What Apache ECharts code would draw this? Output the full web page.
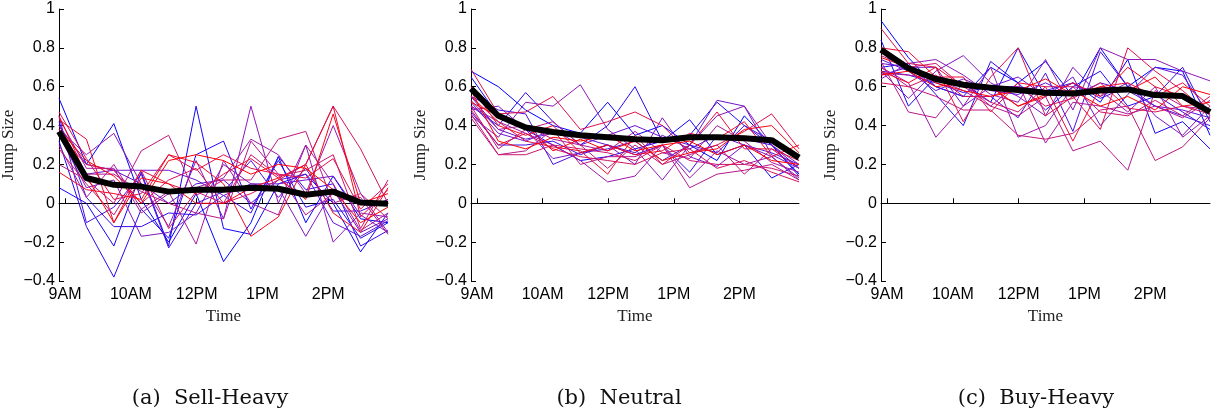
<!DOCTYPE html>
<html>
<head>
<meta charset="utf-8">
<script src="https://cdn.jsdelivr.net/npm/echarts@6/dist/echarts.min.js"></script>
<style>html,body{margin:0;padding:0;background:#fff;}#c{width:1217px;height:413px;}</style>
</head>
<body>
<div id="c"></div>
<script>
// ---- data ----
const xIndex = [0,1,2,3,4,5,6,7,8,9,10,11,12];
const tickPositions = [0.22, 2.62, 5.02, 7.42, 9.82];
const tickLabels = ["9AM","10AM","12PM","1PM","2PM"];
const yTicks = [-0.4,-0.2,0,0.2,0.4,0.6,0.8,1];
const panelCaptions = ["(a)  Sell-Heavy","(b)  Neutral","(c)  Buy-Heavy"];

const sellMean = [0.37,0.13,0.095,0.086,0.06,0.07,0.07,0.08,0.075,0.044,0.06,0.004,-0.003];
const sellLines = [
  [0.54,0.2,0.41,0.02,-0.2,0.05,-0.3,-0.1,0.24,-0.1,0.14,-0.08,-0.1],
  [0.08,0.0,-0.22,0.16,-0.22,0.5,-0.13,-0.16,0.1,0.15,0.0,-0.25,-0.05],
  [0.32,-0.12,-0.38,-0.03,-0.18,0.25,0.32,-0.03,0.22,-0.02,0.02,-0.18,-0.1],
  [0.42,0.03,-0.12,-0.12,-0.05,-0.06,0.04,-0.05,0.24,0.07,0.1,-0.22,-0.14],
  [0.45,-0.1,-0.02,0.15,-0.23,0.0,0.06,0.22,0.03,0.18,-0.04,-0.04,0.02],
  [0.36,0.15,0.17,0.1,0.0,0.1,0.12,0.0,0.12,0.15,-0.1,-0.17,-0.09],
  [0.4,0.2,0.17,0.17,0.17,0.12,0.04,0.1,0.1,0.12,0.14,-0.06,-0.15],
  [0.35,0.08,0.12,-0.17,-0.15,-0.05,0.2,0.1,0.08,-0.17,0.07,-0.15,-0.08],
  [0.38,0.25,0.36,0.1,-0.12,0.22,-0.08,0.5,0.0,0.3,-0.2,-0.05,-0.07],
  [0.44,0.18,0.18,-0.05,0.05,0.08,0.13,0.33,0.25,0.05,0.4,0.05,-0.15],
  [0.3,0.03,0.2,-0.03,0.06,-0.21,0.22,0.0,-0.06,0.3,0.1,-0.14,-0.05],
  [0.4,0.15,0.15,0.06,0.0,-0.05,-0.08,0.32,0.15,-0.06,0.05,0.03,-0.16],
  [0.2,0.12,0.0,0.27,0.35,0.04,0.12,0.12,0.33,0.37,0.0,0.05,-0.08],
  [0.28,0.1,-0.06,0.17,-0.13,0.06,0.0,0.25,0.14,0.17,0.25,-0.13,0.12],
  [0.35,0.2,0.17,0.0,0.12,0.18,0.0,0.05,0.12,0.2,0.5,0.28,0.0],
  [0.47,0.23,0.02,0.05,0.25,0.17,0.25,0.18,0.15,0.13,0.23,-0.03,0.1],
  [0.43,0.33,-0.1,0.17,0.1,0.05,0.15,0.23,0.13,0.2,0.5,-0.07,0.07],
  [0.16,0.07,0.05,0.02,0.25,0.21,0.1,-0.17,-0.07,0.2,-0.05,-0.15,0.08],
  [0.45,0.14,-0.1,0.13,0.1,0.0,0.0,0.08,0.13,0.02,0.46,0.0,0.05],
  [0.38,0.22,0.14,0.0,0.22,0.25,0.22,0.15,0.2,0.18,0.07,-0.1,-0.02]
];

const neutralMean = [0.59,0.45,0.39,0.367,0.35,0.34,0.33,0.325,0.34,0.34,0.335,0.325,0.235];
const neutralLines = [
  [0.68,0.6,0.48,0.4,0.36,0.52,0.35,0.4,0.3,0.22,0.45,0.3,0.15],
  [0.65,0.45,0.38,0.3,0.22,0.24,0.28,0.32,0.43,0.25,0.3,0.13,0.2],
  [0.5,0.4,0.57,0.42,0.3,0.4,0.6,0.32,0.35,0.52,0.4,0.3,0.14],
  [0.47,0.3,0.3,0.32,0.25,0.3,0.25,0.3,0.16,0.35,0.33,0.3,0.18],
  [0.55,0.48,0.46,0.2,0.26,0.28,0.32,0.22,0.3,0.26,0.4,0.32,0.22],
  [0.55,0.38,0.33,0.36,0.34,0.3,0.26,0.35,0.28,0.35,0.3,0.26,0.2],
  [0.52,0.36,0.32,0.38,0.3,0.35,0.4,0.34,0.3,0.53,0.5,0.25,0.18],
  [0.48,0.5,0.38,0.23,0.26,0.3,0.2,0.44,0.24,0.19,0.3,0.24,0.13],
  [0.45,0.34,0.52,0.5,0.61,0.38,0.28,0.12,0.3,0.45,0.5,0.3,0.2],
  [0.5,0.42,0.36,0.3,0.22,0.11,0.14,0.3,0.13,0.27,0.2,0.24,0.12],
  [0.53,0.38,0.4,0.33,0.3,0.27,0.37,0.26,0.23,0.4,0.32,0.21,0.16],
  [0.44,0.25,0.27,0.38,0.2,0.24,0.24,0.3,0.08,0.15,0.17,0.2,0.12],
  [0.5,0.28,0.38,0.42,0.3,0.18,0.3,0.2,0.25,0.3,0.15,0.28,0.18],
  [0.46,0.25,0.25,0.3,0.28,0.26,0.22,0.3,0.22,0.2,0.2,0.18,0.14],
  [0.48,0.3,0.36,0.28,0.24,0.22,0.2,0.26,0.28,0.18,0.22,0.16,0.11],
  [0.69,0.46,0.47,0.55,0.38,0.42,0.47,0.4,0.26,0.3,0.37,0.46,0.28],
  [0.55,0.42,0.32,0.29,0.27,0.15,0.35,0.2,0.3,0.47,0.28,0.28,0.22],
  [0.6,0.4,0.35,0.4,0.26,0.3,0.25,0.27,0.36,0.33,0.42,0.24,0.3],
  [0.52,0.45,0.4,0.27,0.33,0.27,0.32,0.22,0.26,0.28,0.38,0.4,0.26],
  [0.58,0.32,0.28,0.34,0.32,0.35,0.27,0.3,0.32,0.25,0.3,0.22,0.2]
];

const buyMean = [0.79,0.695,0.64,0.61,0.595,0.583,0.569,0.565,0.58,0.586,0.557,0.552,0.47];
const buyLines = [
  [0.94,0.75,0.6,0.55,0.7,0.62,0.73,0.55,0.8,0.6,0.7,0.68,0.35],
  [0.84,0.5,0.65,0.62,0.52,0.8,0.55,0.62,0.52,0.74,0.36,0.42,0.28],
  [0.7,0.72,0.56,0.4,0.73,0.62,0.48,0.6,0.68,0.5,0.55,0.7,0.42],
  [0.68,0.66,0.62,0.57,0.6,0.6,0.58,0.62,0.54,0.6,0.56,0.47,0.38],
  [0.66,0.7,0.6,0.55,0.55,0.44,0.67,0.37,0.78,0.6,0.5,0.45,0.4],
  [0.74,0.68,0.58,0.64,0.58,0.56,0.62,0.55,0.62,0.58,0.5,0.48,0.44],
  [0.72,0.7,0.7,0.5,0.6,0.65,0.55,0.65,0.4,0.56,0.7,0.66,0.45],
  [0.68,0.54,0.68,0.76,0.62,0.55,0.45,0.7,0.55,0.62,0.45,0.35,0.5],
  [0.64,0.72,0.74,0.66,0.56,0.52,0.74,0.48,0.8,0.74,0.74,0.68,0.63],
  [0.7,0.62,0.34,0.5,0.7,0.34,0.4,0.6,0.58,0.47,0.6,0.34,0.45],
  [0.67,0.66,0.64,0.58,0.5,0.62,0.31,0.52,0.5,0.46,0.5,0.44,0.53],
  [0.73,0.47,0.44,0.62,0.5,0.45,0.55,0.27,0.32,0.17,0.58,0.5,0.48],
  [0.7,0.6,0.55,0.48,0.48,0.35,0.33,0.36,0.48,0.5,0.22,0.29,0.44],
  [0.76,0.7,0.72,0.6,0.52,0.47,0.6,0.6,0.47,0.45,0.53,0.45,0.55],
  [0.62,0.6,0.66,0.55,0.55,0.6,0.5,0.54,0.62,0.49,0.47,0.5,0.46],
  [0.9,0.72,0.7,0.42,0.65,0.8,0.45,0.55,0.38,0.8,0.68,0.58,0.46],
  [0.8,0.78,0.65,0.65,0.47,0.62,0.6,0.32,0.6,0.62,0.55,0.62,0.5],
  [0.68,0.62,0.7,0.6,0.6,0.5,0.55,0.62,0.55,0.7,0.6,0.55,0.47],
  [0.75,0.7,0.62,0.58,0.55,0.58,0.64,0.56,0.6,0.58,0.65,0.5,0.52],
  [0.66,0.68,0.6,0.62,0.6,0.5,0.56,0.58,0.5,0.55,0.48,0.6,0.56]
];

// ---- styling / layout ----
const panels = [
  {lines: sellLines, mean: sellMean, left: 59, width: 329, cx: 205},
  {lines: neutralLines, mean: neutralMean, left: 471, width: 328, cx: 614},
  {lines: buyLines, mean: buyMean, left: 881, width: 329, cx: 1031}
];
function lineColor(i, n) {
  const t = i / (n - 1);
  const s = Math.sin(Math.PI * t);
  const r = Math.min(255, Math.round(255 * t + 35 * s));
  const b = Math.min(255, Math.round(255 * (1 - t) + 35 * s));
  const g = Math.round(25 * s);
  return 'rgb(' + r + ',' + g + ',' + b + ')';
}
function fmtY(v) {
  const r = Math.round(v * 10) / 10;
  if (r === 0) return '0';
  const s = String(Math.abs(r));
  return (r < 0 ? '\u2212' : '') + s;
}
const grids = [], xAxes = [], yAxes = [], series = [], titles = [];
panels.forEach((p, k) => {
  grids.push({left: p.left, width: p.width, top: 9, height: 272, outerBoundsMode: 'none'});
  xAxes.push({
    type: 'value', gridIndex: k, min: 0, max: 12,
    name: 'Time', nameLocation: 'middle', nameGap: 23,
    nameTextStyle: {fontFamily: 'Liberation Serif', fontSize: 17, color: '#222'},
    axisLine: {show: true, lineStyle: {color: '#000', width: 1}},
    axisTick: {show: true, inside: true, length: 5, customValues: tickPositions, lineStyle: {color: '#000'}},
    axisLabel: {show: true, customValues: tickPositions, margin: 6, color: '#000', fontFamily: 'Liberation Sans', fontSize: 16,
      formatter: v => { const i = tickPositions.findIndex(t => Math.abs(t - v) < 1e-6); return i >= 0 ? tickLabels[i] : ''; }},
    splitLine: {show: false}
  });
  yAxes.push({
    type: 'value', gridIndex: k, min: -0.4, max: 1, interval: 0.2,
    name: 'Jump Size', nameLocation: 'middle', nameGap: 42, nameRotate: 90,
    nameTextStyle: {fontFamily: 'Liberation Serif', fontSize: 17, color: '#222'},
    axisLine: {show: true, lineStyle: {color: '#000', width: 1}},
    axisTick: {show: true, inside: true, length: 5, lineStyle: {color: '#000'}},
    axisLabel: {show: true, margin: 4, color: '#000', fontFamily: 'Liberation Sans', fontSize: 16, formatter: fmtY},
    splitLine: {show: false}
  });
  p.lines.forEach((arr, i) => {
    series.push({
      type: 'line', xAxisIndex: k, yAxisIndex: k, symbol: 'none', silent: true, animation: false,
      data: xIndex.map((x, j) => [x, arr[j]]),
      lineStyle: {width: 1, color: lineColor(i, p.lines.length)}, z: 2
    });
  });
  series.push({
    type: 'line', xAxisIndex: k, yAxisIndex: k, symbol: 'none', silent: true, animation: false,
    data: xIndex.map((x, j) => [x, p.mean[j]]),
    lineStyle: {width: 6, color: '#000', join: 'round'}, z: 5
  });
  titles.push({
    text: panelCaptions[k], left: p.cx, top: 383, textAlign: 'center',
    textStyle: {fontFamily: 'DejaVu Serif', fontSize: 21, fontWeight: 'normal', color: '#111'}
  });
});
const chart = echarts.init(document.getElementById('c'), null, {renderer: 'canvas'});
chart.setOption({
  backgroundColor: '#fff', animation: false,
  title: titles, grid: grids, xAxis: xAxes, yAxis: yAxes, series: series
});
</script>
</body>
</html>
